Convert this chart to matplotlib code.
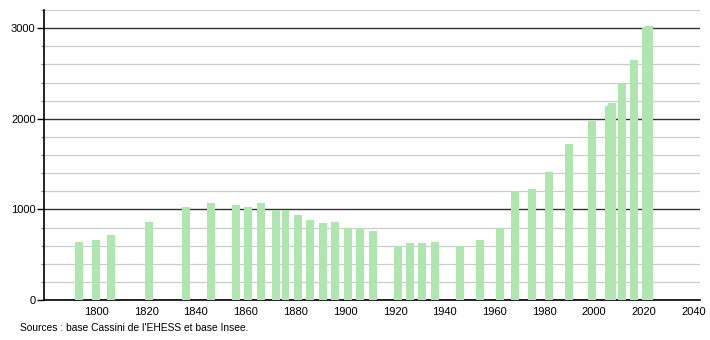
import numpy as np
import matplotlib
matplotlib.use("Agg")
import matplotlib.pyplot as plt
from matplotlib.ticker import MultipleLocator

plt.rcParams['font.family'] = ['Liberation Sans', 'DejaVu Sans']

# années de recensement et population
annees = [1793, 1800, 1806, 1821, 1836, 1846, 1856, 1861, 1866, 1872, 1876,
          1881, 1886, 1891, 1896, 1901, 1906, 1911, 1921, 1926, 1931, 1936,
          1946, 1954, 1962, 1968, 1975, 1982, 1990, 1999, 2006, 2007, 2011,
          2016, 2021, 2022]
population = [642, 657, 712, 864, 1026, 1070, 1052, 1026, 1070, 990, 990,
              934, 886, 853, 864, 794, 794, 757, 594, 631, 631, 642,
              598, 664, 794, 1200, 1229, 1410, 1716, 1971, 2141, 2178, 2395,
              2645, 3005, 3020]
xticks = list(range(1800, 2041, 20))
yticks_major = [0, 1000, 2000, 3000]
source = "Sources : base Cassini de l'EHESS et base Insee."

fig = plt.figure(figsize=(7.1, 3.4), dpi=100)
ax = fig.add_axes([44/710, 40/340, 656/710, 290/340])

ax.bar(annees, population, width=3.2, color='#afe5af', zorder=3, linewidth=0)

ax.set_xlim(1779, 2042.5)
ax.set_ylim(0, 3200)
ax.set_xticks(xticks)
ax.set_yticks(yticks_major)
ax.yaxis.set_minor_locator(MultipleLocator(200))
ax.grid(axis='y', which='minor', color='#cccccc', linewidth=0.9, zorder=1)
ax.grid(axis='y', which='major', color='#333333', linewidth=1.0, zorder=2)
ax.grid(axis='x', visible=False)

for s in ['top', 'right']:
    ax.spines[s].set_visible(False)
ax.spines['left'].set_color('black')
ax.spines['bottom'].set_color('black')
ax.spines['left'].set_linewidth(1.2)
ax.spines['bottom'].set_linewidth(1.2)

ax.tick_params(axis='x', length=0, pad=5, labelsize=8)
ax.tick_params(axis='y', which='major', length=5, width=1, pad=1, labelsize=8)
ax.tick_params(axis='y', which='minor', length=2, width=0.8, color='#888888')

fig.text(20/710, 1 - 328/340, source, fontsize=7.4, va='center', ha='left')

fig.savefig('out.png', dpi=100)
